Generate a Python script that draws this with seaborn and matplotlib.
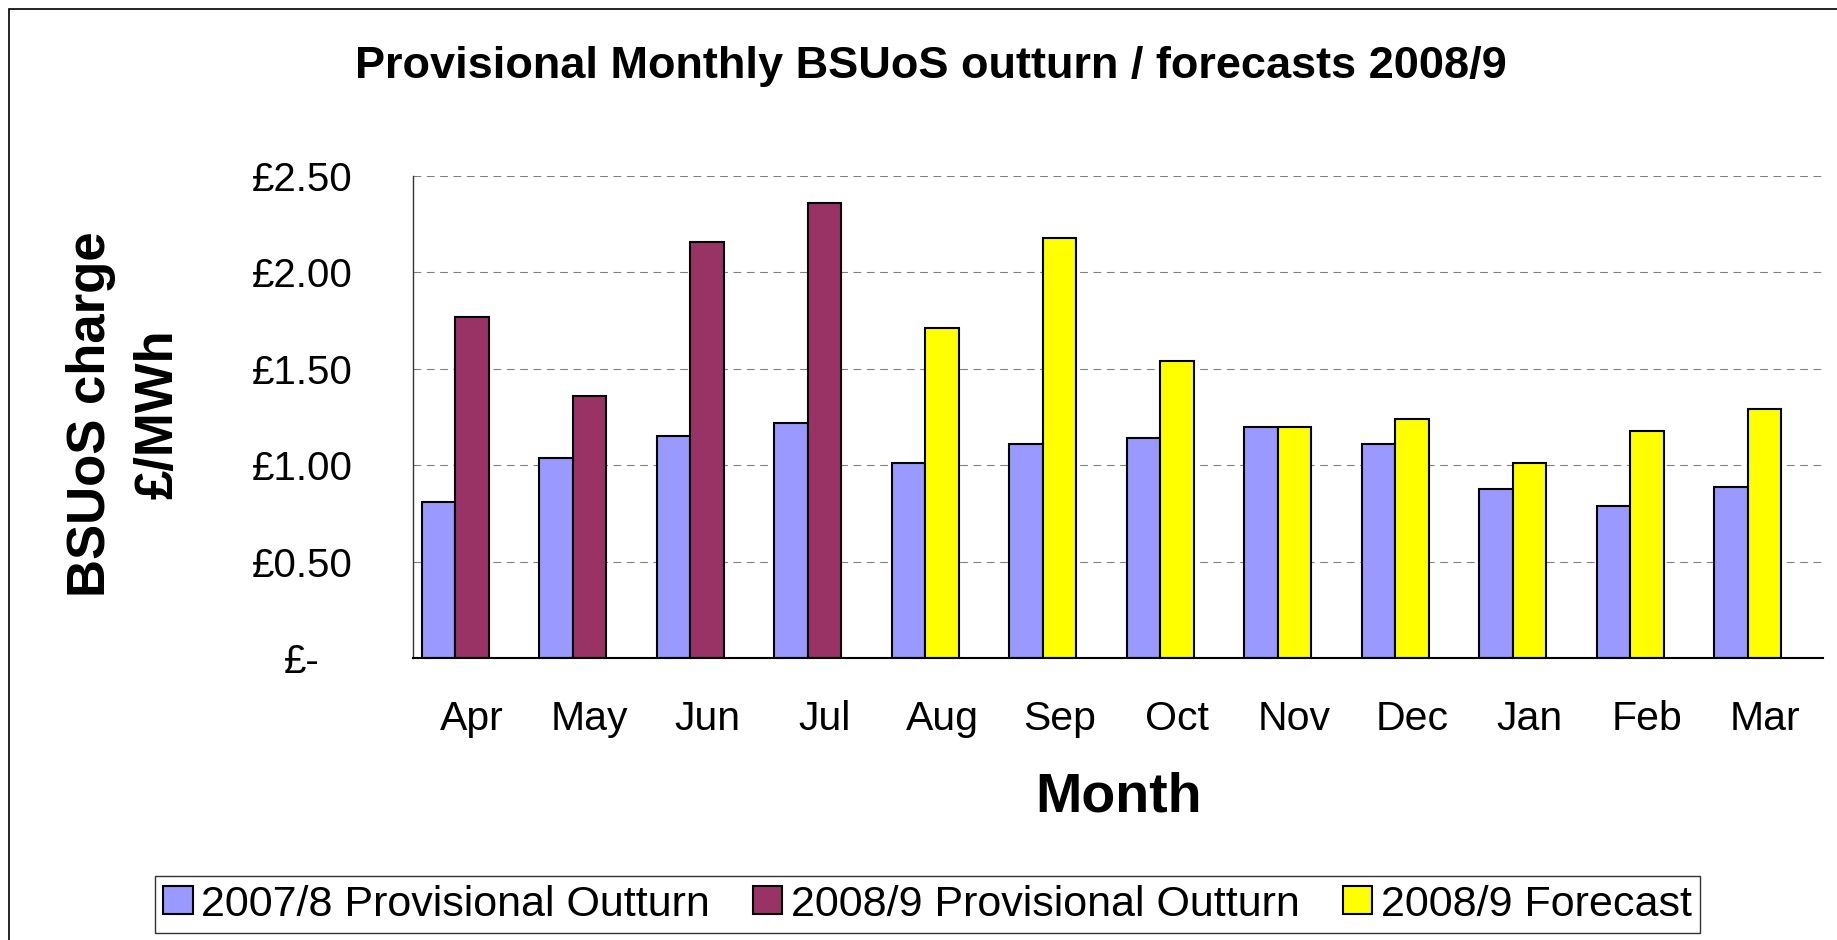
import numpy as np
import pandas as pd
import seaborn as sns
import matplotlib.pyplot as plt
from matplotlib.patches import Patch, Rectangle
from matplotlib.ticker import FuncFormatter

# wartosci (GBP/MWh)
months = ["Apr", "May", "Jun", "Jul", "Aug", "Sep", "Oct", "Nov", "Dec", "Jan", "Feb", "Mar"]
outturn_2007 = [0.81, 1.04, 1.15, 1.22, 1.01, 1.11, 1.14, 1.20, 1.11, 0.88, 0.79, 0.89]
values_2008 = [1.77, 1.36, 2.16, 2.36, 1.71, 2.18, 1.54, 1.20, 1.24, 1.01, 1.18, 1.29]
status_2008 = ["outturn"] * 4 + ["forecast"] * 8

series_names = ["2007/8 Provisional Outturn", "2008/9 Provisional Outturn", "2008/9 Forecast"]
c_prev, c_outturn, c_forecast = "#9999FF", "#993366", "#FFFF00"

df = pd.DataFrame({
    "month": months * 2,
    "value": outturn_2007 + values_2008,
    "slot": ["2007/8"] * 12 + ["2008/9"] * 12,
})

sns.set_style("white")
plt.rcParams["font.family"] = ["Liberation Sans", "DejaVu Sans"]
plt.rcParams["text.color"] = "black"
plt.rcParams["axes.labelcolor"] = "black"

fig = plt.figure(figsize=(18.37, 9.4), dpi=100)
ax = fig.add_axes([0.22499, 0.29968, 0.76756, 0.51309])

# trzeci slot pusty - tak jak w Excelu klaster ma miejsce na 3 serie
sns.barplot(data=df, x="month", y="value", hue="slot", order=months,
            hue_order=["2007/8", "2008/9", "spare"],
            palette={"2007/8": c_prev, "2008/9": c_outturn, "spare": "white"},
            width=0.855, saturation=1, errorbar=None, edgecolor="black",
            linewidth=1.5, legend=False, ax=ax)

# kolory drugiej serii zaleza od tego czy to outturn czy prognoza
for bar in ax.containers[1]:
    i = int(round(bar.get_x() + bar.get_width() / 2))
    bar.set_facecolor(c_outturn if status_2008[i] == "outturn" else c_forecast)

ax.set_xlim(-0.5, len(months) - 0.5)
ax.set_ylim(0, 2.5)
ax.set_yticks(np.arange(0, 2.51, 0.5))
ax.yaxis.set_major_formatter(FuncFormatter(lambda v, p: "£-" if v == 0 else f"£{v:.2f}"))
ax.set_xticks(np.arange(-0.5, len(months)), minor=True)

ax.tick_params(axis="y", which="major", direction="out", length=10, width=1,
               color="black", labelsize=29, pad=70)
for lab in ax.get_yticklabels():
    lab.set_horizontalalignment("center")
ax.tick_params(axis="x", which="major", length=0, labelsize=29.5, pad=30)
ax.tick_params(axis="x", which="minor", direction="out", length=8.6, width=1,
               color="#555555")
ax.tick_params(axis="both", colors="black", labelcolor="black", which="major")

ax.yaxis.grid(True, linestyle=(0, (7, 5)), color="#808080", linewidth=0.8)
ax.set_axisbelow(True)
sns.despine(ax=ax, top=True, right=True)
ax.spines["left"].set_color("#333333")
ax.spines["left"].set_linewidth(1)
ax.spines["bottom"].set_color("black")
ax.spines["bottom"].set_linewidth(1.5)

ax.set_xlabel("Month", fontsize=40, fontweight="bold")
ax.xaxis.set_label_coords(0.5, -0.235)
ax.set_ylabel("BSUoS charge\n£/MWh", fontsize=38, fontweight="bold", linespacing=1.45)
ax.yaxis.set_label_coords(-0.1633, 0.507)

fig.suptitle("Provisional Monthly BSUoS outturn / forecasts 2008/9", x=0.5068,
             y=1 - 78.3 / 940, va="baseline", ha="center", fontsize=32.5, fontweight="bold")

handles = [Patch(facecolor=c, edgecolor="black", linewidth=1.5)
           for c in (c_prev, c_outturn, c_forecast)]
leg = fig.legend(handles, series_names, loc="center", ncol=3,
                 bbox_to_anchor=(927.5 / 1837, 1 - 904.5 / 940), fontsize=31,
                 frameon=True, fancybox=False, edgecolor="black", borderpad=0.2,
                 handlelength=0.68, handleheight=0.63, handletextpad=0.2,
                 columnspacing=1.0)
leg.get_frame().set_linewidth(1)

# ramka calego wykresu (lewa i gorna krawedz widoczna)
fig.patches.append(Rectangle((9 / 1837, -0.5), 2, 1.5 - 9 / 940, transform=fig.transFigure,
                             fill=False, edgecolor="black", linewidth=1.2))

fig.savefig("out.png", dpi=100)
